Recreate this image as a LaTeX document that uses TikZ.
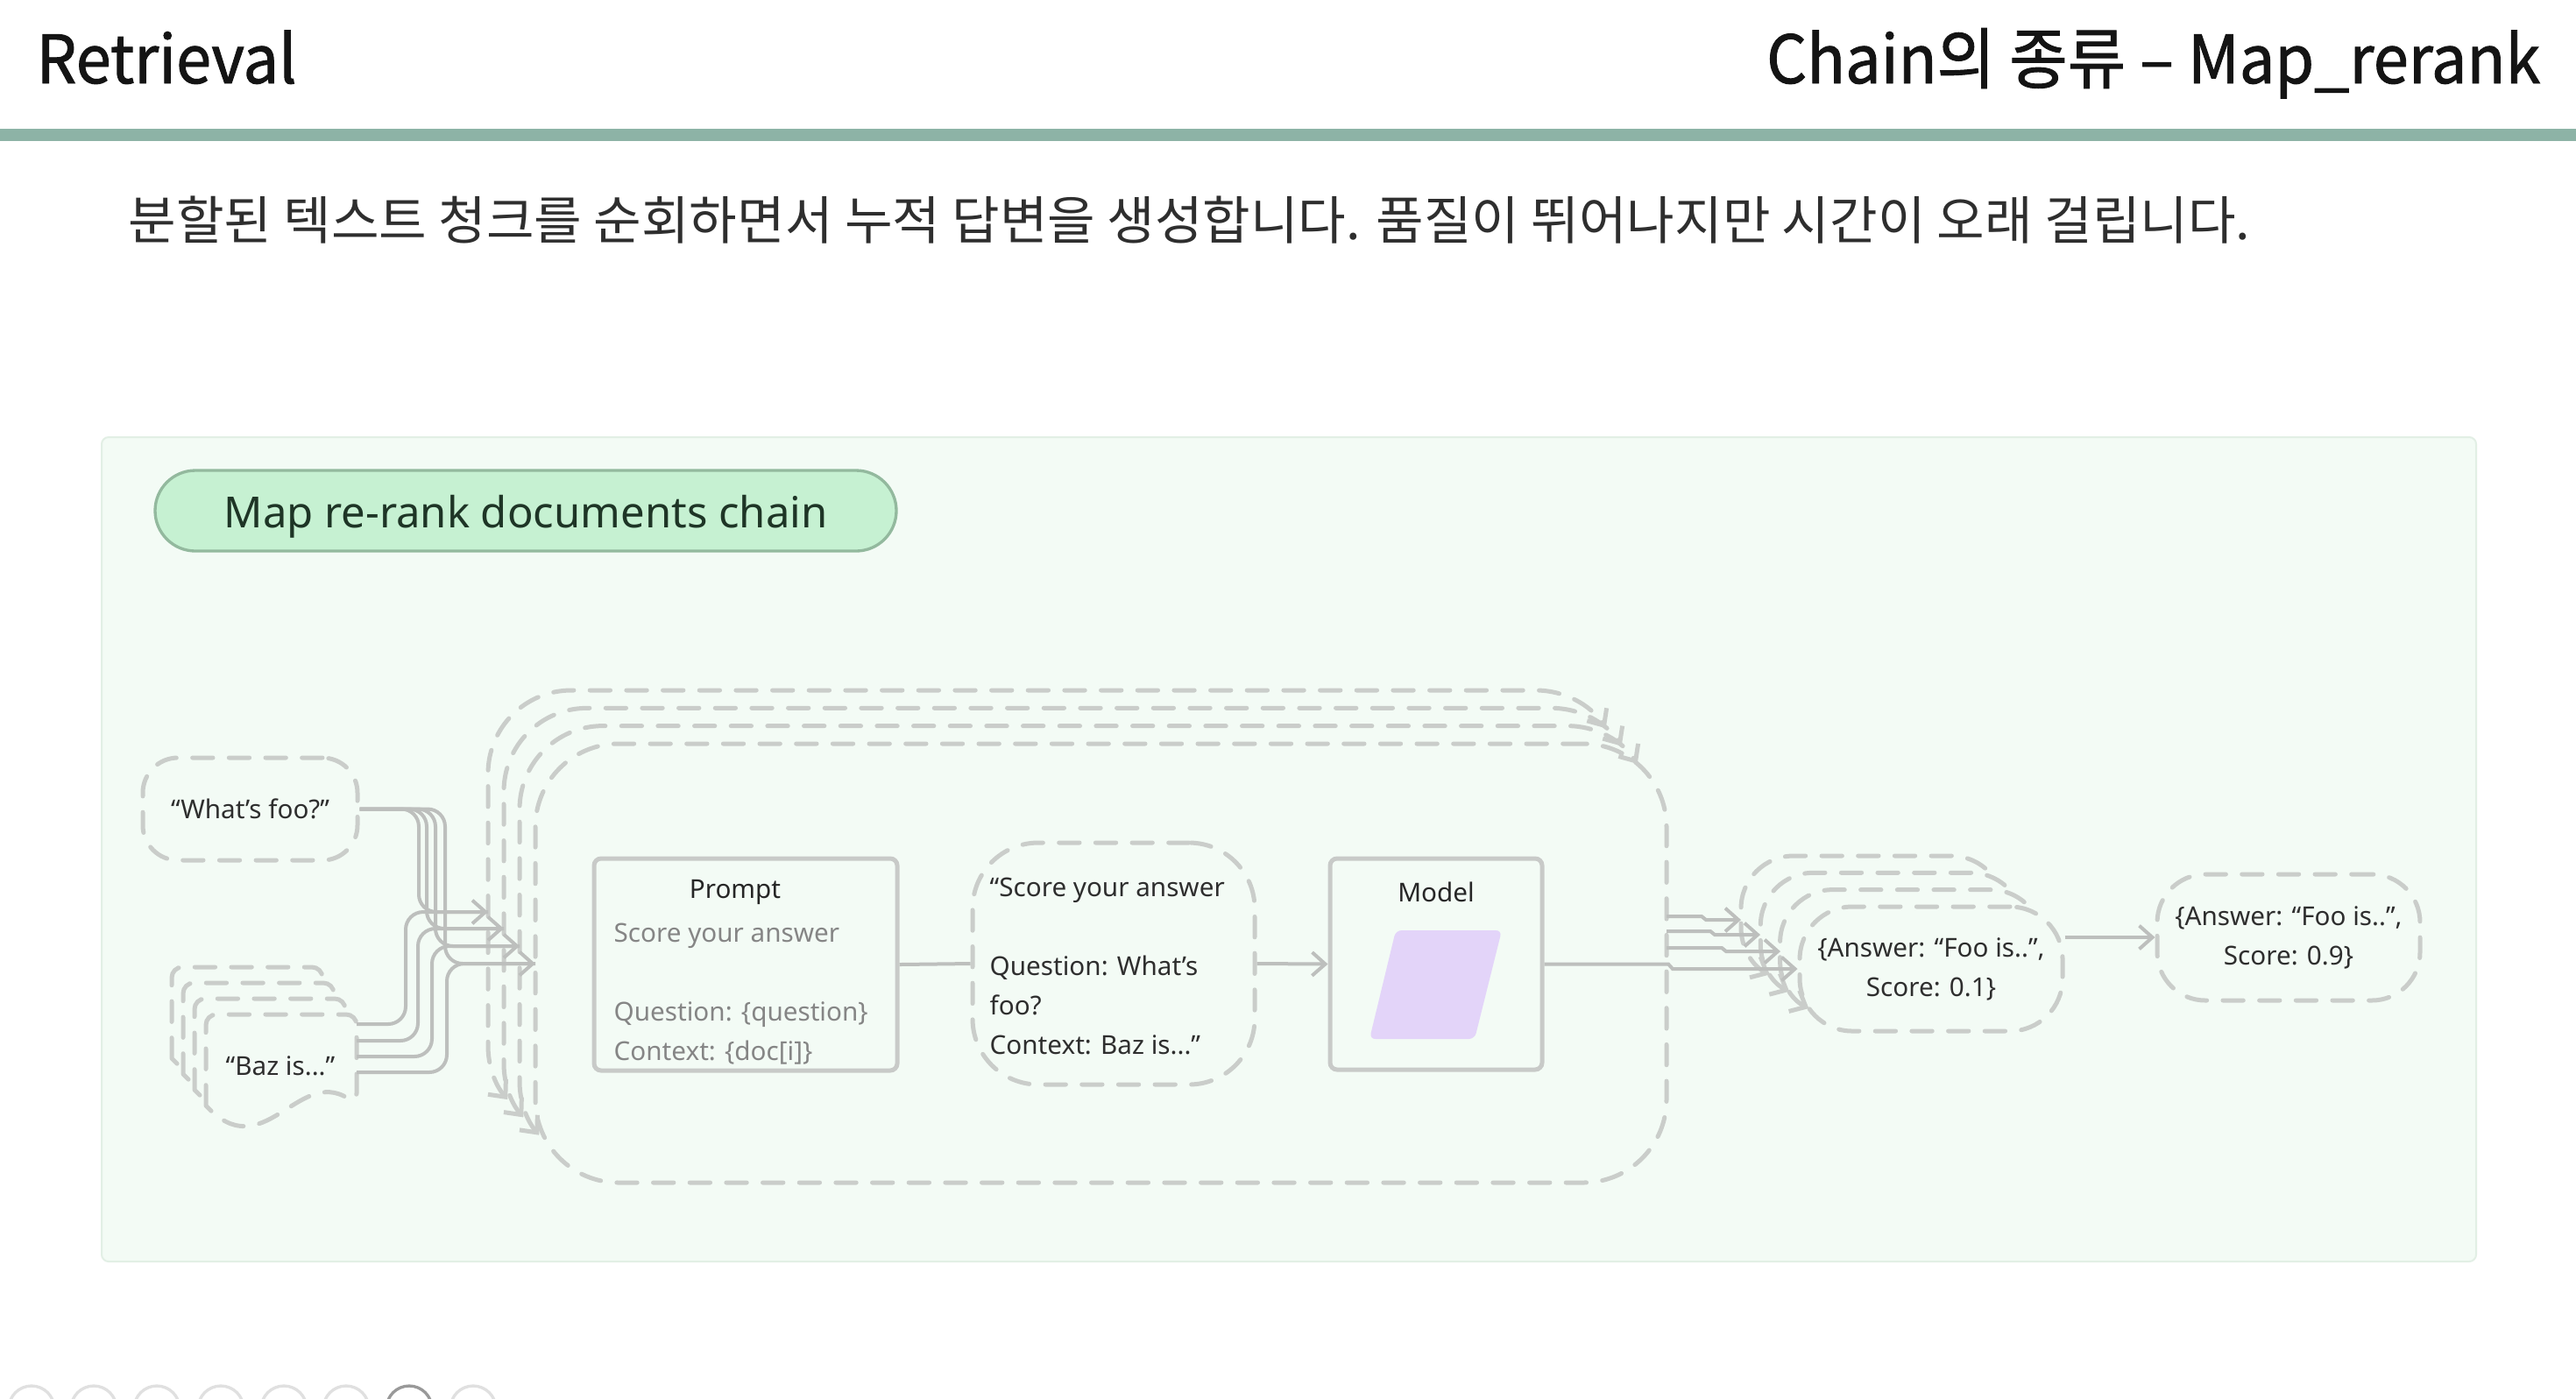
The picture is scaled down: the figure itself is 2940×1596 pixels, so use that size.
\documentclass[tikz,border=0pt]{standalone}
\usepackage{fontspec}
\setmainfont{Noto Sans}
\newfontfamily\kr{Noto Sans CJK KR}
\newfontfamily\krh{Noto Sans CJK KR}[FakeBold=1.2, FakeStretch=0.95]
\usetikzlibrary{arrows.meta}
\definecolor{panelbg}{HTML}{F3FBF5}
\definecolor{panelbd}{HTML}{E2EFE5}
\definecolor{barc}{HTML}{8DB3A6}
\definecolor{pillfill}{HTML}{C6F1D2}
\definecolor{pillbd}{HTML}{93B99E}
\definecolor{pilltext}{HTML}{1E3526}
\definecolor{dashc}{HTML}{CACDCA}
\definecolor{linec}{HTML}{BDBFBD}
\definecolor{boxbd}{HTML}{C8CAC8}
\definecolor{lav}{HTML}{E3D4F9}
\definecolor{txt}{HTML}{2E2E2E}
\definecolor{graytxt}{HTML}{858585}
\begin{document}
\begin{tikzpicture}[x=0.3pt,y=-0.3pt,
  dsh/.style={draw=dashc, line width=1.5pt, dash pattern=on 7pt off 5.5pt, line cap=round},
  conn/.style={draw=linec, line width=1.2pt, rounded corners=6pt},
  tip/.style={arrows={-Straight Barb[length=4.5pt,width=8pt]}},
  stip/.style={arrows={Straight Barb[length=4.5pt,width=8pt]-}},
  dtip/.style={arrows={Straight Barb[length=4.5pt,width=8pt]-Straight Barb[length=4.5pt,width=8pt]}},
  lbl/.style={font=\fontsize{8.9}{13.5}\selectfont, text=txt, inner sep=0pt},
  box/.style={draw=boxbd, line width=1.5pt, rounded corners=2.4pt, inner sep=0pt},
]
\useasboundingbox (0,0) rectangle (2940,1596);
\fill[white] (0,0) rectangle (2940,1596);
% header
\node[anchor=base west, font=\krh\fontsize{22.8}{27}\selectfont, text=black!92, inner sep=0pt] (ttl) at (41,95) {Retrieval};
\node[anchor=base east, font=\krh\fontsize{22.8}{27}\selectfont, text=black!92, inner sep=0pt] (ttr) at (2900,95) {Chain의 종류 – Map\_rerank};
\fill[barc] (0,147) rectangle (2940,161);
\node[anchor=base west, font=\kr\fontsize{17.8}{21}\selectfont, text=txt, inner sep=0pt] (sub) at (146,273) {분할된 텍스트 청크를 순회하면서 누적 답변을 생성합니다. 품질이 뛰어나지만 시간이 오래 걸립니다.};
% panel
\fill[panelbg, draw=panelbd, line width=0.6pt, rounded corners=2.4pt] (116,499) rectangle (2826,1440);
\node[fill=pillfill, draw=pillbd, line width=1pt, rounded corners=13.8pt, minimum width=253.8pt, minimum height=27.6pt, inner sep=0pt] (pill) at (600,583) {};
\node[text=pilltext, font=\fontsize{14.7}{16}\selectfont, inner sep=0pt] (pilltxt) at (600,590) {Map re-rank documents chain};
% back loops
\foreach \k in {0,1,2} {
  \pgfmathsetmacro\L{557+18*\k}
  \pgfmathsetmacro\T{788+20.3*\k}
  \pgfmathsetmacro\R{\L+1291}
  \pgfmathsetmacro\B{\T+501}
  \pgfmathsetmacro\sx{\L+95+95*cos(140)}
  \pgfmathsetmacro\sy{\B-95+95*sin(140)}
  \draw[dsh, dtip] (\sx,\sy) arc[start angle=140, end angle=180, radius=95] -- (\L,\T+95) arc[start angle=180, end angle=270, radius=95] -- (\R-95,\T) arc[start angle=-90, end angle=-33, radius=95];
}
\node[dsh, rounded corners=28.5pt, minimum width=387.3pt, minimum height=150.3pt, inner sep=0pt] (loop) at (1256.5,1099.5) {};
% what's foo
\node[dsh, rounded corners=12pt, minimum width=73.5pt, minimum height=35.1pt, lbl] (wf) at (285.5,923.5) {“What’s foo?”};
% docs
\foreach \i in {0,1,2,3} {
  \pgfmathsetmacro\X{196+13*\i}
  \pgfmathsetmacro\Y{1104+18*\i}
  \draw[dsh, fill=panelbg] (\X,\Y+104) [rounded corners=3.6pt] -- (\X,\Y) -- (\X+172,\Y) -- (\X+172,\Y+102) [sharp corners] .. controls (\X+105,\Y+60) and (\X+65,\Y+175) .. (\X,\Y+104) -- cycle;
}
\node[lbl] (baz) at (320,1217) {“Baz is...”};
% prompt
\node[box, minimum width=103.8pt, minimum height=72.6pt] (prompt) at (851,1101) {};
\node[lbl, text=black!85] (ptitle) at (839,1018) {Prompt};
\node[lbl, text=graytxt, anchor=west, align=left] (pbody) at (700,1135) {Score your answer\\[13.5pt]Question: \{question\}\\Context: \{doc[i]\}};
% bubble
\node[dsh, rounded corners=22.5pt, minimum width=96.6pt, minimum height=82.8pt, inner sep=0pt] (bub) at (1271,1100) {};
\node[lbl, anchor=west, align=left] (btxt) at (1129,1103) {“Score your answer\\[13.5pt]Question: What’s\\foo?\\Context: Baz is...”};
% model
\node[box, minimum width=72.6pt, minimum height=72.3pt] (model) at (1639,1100.5) {};
\node[lbl, text=black!85] (mtitle) at (1639,1018) {Model};
\fill[lav, rounded corners=2pt] (1593,1062) -- (1714,1062) -- (1683,1186) -- (1563,1186) -- cycle;
% answer stack
\foreach \j in {0,1,2} {
  \pgfmathsetmacro\A{1987+22.3*\j}
  \pgfmathsetmacro\T{977+19.3*\j}
  \pgfmathsetmacro\sx{\A+60+60*cos(117)}
  \pgfmathsetmacro\sy{\T+82+60*sin(117)}
  \draw[dsh, stip] (\sx,\sy) arc[start angle=117, end angle=180, radius=60] -- (\A,\T+60) arc[start angle=180, end angle=270, radius=60] -- (\A+240,\T) arc[start angle=-90, end angle=-35, radius=60];
}
\node[dsh, rounded corners=18pt, minimum width=90pt, minimum height=42.6pt, lbl, align=center] (ans) at (2204,1106) {\{Answer: “Foo is..”,\\Score: 0.1\}};
\node[dsh, rounded corners=16.5pt, minimum width=90pt, minimum height=43.2pt, lbl, align=center] (fin) at (2612,1070) {\{Answer: “Foo is..”,\\Score: 0.9\}};
% coordinates
\coordinate (in0) at (557,1041); \coordinate (in1) at (575,1060);
\coordinate (in2) at (593,1080); \coordinate (in3) at (611,1100);
\coordinate (b0) at (407,1169); \coordinate (b1) at (407,1188);
\coordinate (b2) at (407,1206); \coordinate (b3) at (407,1224);
\coordinate (o0) at (1902,1046); \coordinate (a0) at (1987,1050);
\coordinate (o1) at (1902,1063); \coordinate (a1) at (2009,1067);
\coordinate (o2) at (1902,1082); \coordinate (a2) at (2032,1086);
\coordinate (jog) at (1904,1100.5); \coordinate (jog2) at (1909,1106);
% connectors
\foreach \k/\xt/\yb/\yk in {0/463/1169/1041, 1/477/1188/1060, 2/493/1206/1080, 3/510/1224/1100}
  \draw[conn] (b\k) -- (\xt,\yb) -- (\xt,\yk) -- (in\k);
\foreach \k/\xt/\yk in {0/478/1041, 1/487/1060, 2/497/1080, 3/508/1100}
  \draw[conn, tip] (wf.east) -- (\xt,923.5) -- (\xt,\yk) -- (in\k);
\draw[conn] (prompt.east) -- (bub.west);
\draw[conn, tip] (bub.east) -- (model.west);
\draw[conn, tip, sharp corners] (model.east) -- (jog) -- (jog2) -- (ans.west);
\foreach \k/\y/\sx in {0/1046/1942, 1/1063/1952, 2/1082/1965}
  \draw[conn, tip, sharp corners] (o\k) -- (\sx,\y) -- (\sx+5,\y+4) -- (a\k);
\draw[conn, tip] (ans.east |- fin.west) -- (fin.west);
% bottom controls
\begin{scope}
\clip (0,0) rectangle (2940,1596);
\foreach \cx in {36,107,179,252,324,395,540}
  \draw[black!12, line width=1pt] (\cx,1608) circle[radius=26];
\draw[black!40, line width=1pt] (467,1608) circle[radius=26];
\end{scope}
\end{tikzpicture}
\end{document}
